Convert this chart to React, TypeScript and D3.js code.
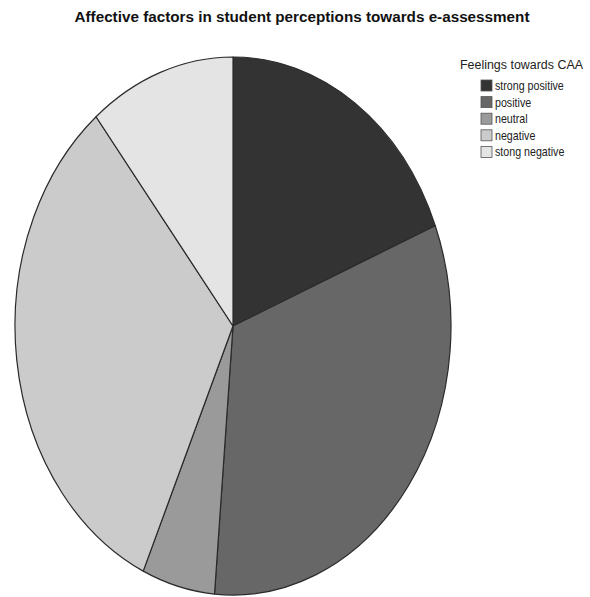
import React from "react";
import * as d3 from "d3";

const categories = ["strong positive", "positive", "neutral", "negative", "stong negative"];
const counts = [7, 12, 2, 12, 4];
const fills = ["#333333", "#676767", "#9a9a9a", "#cbcbcb", "#e4e4e4"];

const chartTitle = "Affective factors in student perceptions towards e-assessment";
const legendTitle = "Feelings towards CAA";

const W = 590;
const H = 597;
const cx = 233;
const cy = 326;
const rx = 218;
const ry = 269;

export default function App() {
  const pie = d3
    .pie<number>()
    .sort(null)
    .value((d) => d)
    .startAngle(0)
    .endAngle(2 * Math.PI);
  const arcs = pie(counts);
  const arc = d3.arc<d3.PieArcDatum<number>>().innerRadius(0).outerRadius(ry);

  const legendX = 481;
  const legendY0 = 80;
  const legendStep = 16.6;

  return (
    <svg
      width={W}
      height={H}
      style={{ position: "absolute", left: 0, top: 0, background: "#fff" }}
      fontFamily="'Liberation Sans', Arial, sans-serif"
    >
      <text
        x={302}
        y={22}
        textAnchor="middle"
        fontSize={14}
        fontWeight="bold"
        fill="#111"
        textLength={455}
        lengthAdjust="spacingAndGlyphs"
      >
        {chartTitle}
      </text>

      <g transform={`translate(${cx},${cy}) scale(${rx / ry},1)`}>
        {arcs.map((a, i) => (
          <path
            key={categories[i]}
            d={arc(a) || ""}
            fill={fills[i]}
            stroke="#2a2a2a"
            strokeWidth={1.2}
            vectorEffect="non-scaling-stroke"
            strokeLinejoin="round"
          />
        ))}
      </g>

      <text
        x={460}
        y={69}
        fontSize={12}
        fill="#222"
        textLength={123}
        lengthAdjust="spacingAndGlyphs"
      >
        {legendTitle}
      </text>
      {categories.map((c, i) => (
        <g key={c} transform={`translate(${legendX},${legendY0 + i * legendStep})`}>
          <rect x={0} y={0} width={11} height={11} fill={fills[i]} stroke="#555" strokeWidth={0.8} />
          <text x={14} y={10} fontSize={12} fill="#222" transform="scale(0.89,1)" style={{ transformBox: "fill-box" }}>
            {c}
          </text>
        </g>
      ))}
    </svg>
  );
}
